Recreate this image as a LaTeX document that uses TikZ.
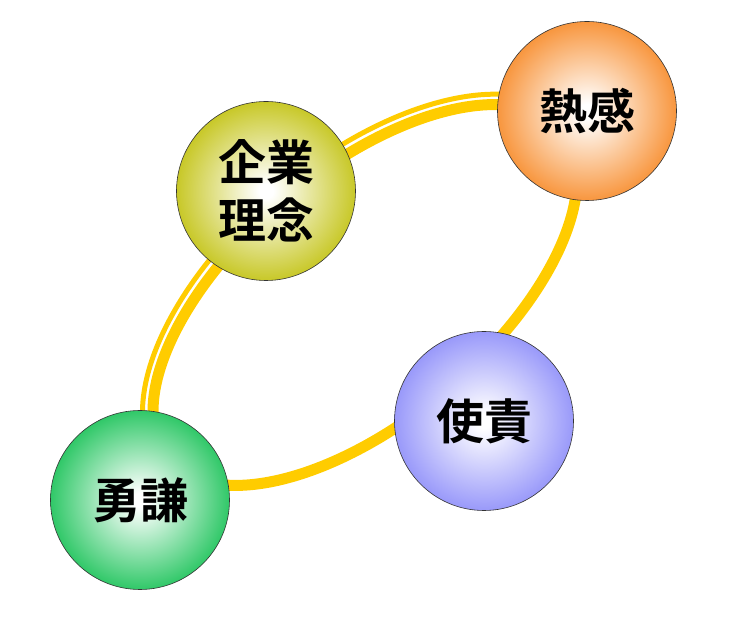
\documentclass[tikz,border=0pt]{standalone}
\usepackage{fontspec}
\newfontfamily\jpfont{Noto Sans CJK JP}[BoldFont={Noto Sans CJK JP Bold}]
\definecolor{ringgold}{HTML}{FFCC00}
\definecolor{kigyo}{HTML}{C8C828}
\definecolor{netsu}{HTML}{F8963E}
\definecolor{shiseki}{HTML}{9999FA}
\definecolor{yuken}{HTML}{30C868}
\colorlet{ballfill}{white}
\usetikzlibrary{calc, positioning}
\pgfdeclareradialshading[ballfill]{glow}{\pgfpoint{0bp}{0bp}}{color(0bp)=(white); color(2bp)=(white); color(25bp)=(ballfill); color(50bp)=(ballfill)}
\tikzset{
  ballcol/.code={\colorlet{ballfill}{#1}},
  ball/.style={circle, minimum size=179pt, inner sep=0pt, draw=black!80, line width=0.6pt,
    shade, shading=glow, ballcol=#1, align=center,
    font=\jpfont\bfseries\fontsize{48}{58}\selectfont},
  ring/.style={draw=ringgold, line width=11pt},
  ringthin/.style={draw=ringgold, line width=5pt}
}

\begin{document}
\begin{tikzpicture}[x=1pt, y=1pt]
  \useasboundingbox (0,0) rectangle (750,621);
  \coordinate (ringc) at (365,326);
  % ring behind the balls
  \begin{scope}[shift={(ringc)}, rotate=40]
    \draw[ring] (0,0) ellipse[x radius=256, y radius=125];
    \draw[ringthin] (267,0) arc[start angle=0, end angle=180, x radius=267, y radius=136];
  \end{scope}
  \foreach \name/\x/\y/\col/\txt in {
    rinen/266/430/kigyo/{企業\\理念},
    netsukan/587/510/netsu/熱感,
    shiseki/484/200/shiseki/使責,
    yuken/140/121/yuken/勇謙} {
    \node[ball=\col] (\name) at (\x,\y) {\txt};
  }
\end{tikzpicture}
\end{document}
